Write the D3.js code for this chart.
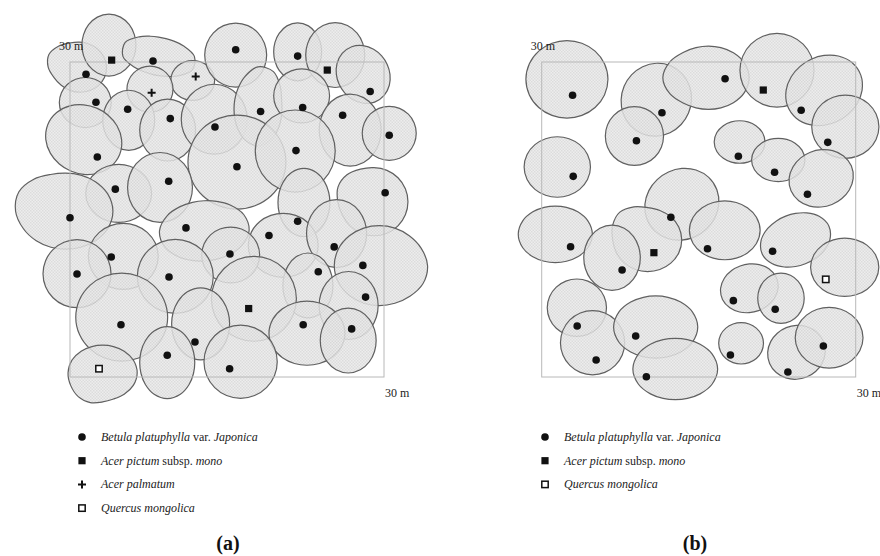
<!DOCTYPE html>
<html>
<head>
<meta charset="utf-8">
<script src="https://cdn.jsdelivr.net/npm/d3@7"></script>
<style>
  body { margin: 0; background: #fff; }
  svg { display: block; }
</style>
</head>
<body>
<svg id="chart" width="880" height="556"></svg>
<script>
// Plot size (m) and species
const plotSize = 30;
const species = [
  { key: "B", name: ["Betula platuphylla", " var. ", "Japonica"] },
  { key: "A", name: ["Acer pictum", " subsp. ", "mono"] },
  { key: "P", name: ["Acer palmatum", "", ""] },
  { key: "Q", name: ["Quercus mongolica", "", ""] }
];

// Stand (a): stem positions [x m, y m, species]
const treesA = [
  [1.53, 28.84, "B"], [3.98, 30.18, "A"], [7.93, 30.09, "B"], [12.01, 28.62, "P"],
  [7.80, 27.06, "P"], [15.83, 31.17, "B"], [21.75, 30.56, "B"], [24.58, 29.23, "A"],
  [28.68, 27.19, "B"], [2.48, 26.17, "B"], [5.51, 25.50, "B"], [9.58, 24.61, "B"],
  [13.85, 23.81, "B"], [18.21, 25.28, "B"], [22.23, 25.66, "B"], [26.05, 24.93, "B"],
  [30.50, 23.02, "B"], [2.61, 20.95, "B"], [15.95, 20.03, "B"], [21.59, 21.56, "B"],
  [4.33, 17.89, "B"], [9.43, 18.65, "B"], [30.11, 17.55, "B"], [0.00, 15.16, "B"],
  [11.08, 14.20, "B"], [21.75, 14.83, "B"], [19.01, 13.47, "B"], [25.24, 12.39, "B"],
  [3.94, 11.43, "B"], [15.28, 11.72, "B"], [0.67, 9.81, "B"], [9.46, 9.52, "B"],
  [27.98, 10.63, "B"], [23.72, 10.03, "B"], [28.24, 7.61, "B"], [17.07, 6.52, "A"],
  [4.87, 4.97, "B"], [22.28, 4.97, "B"], [26.91, 4.58, "B"], [11.94, 3.34, "B"],
  [9.29, 2.07, "B"], [15.25, 0.79, "B"], [2.77, 0.79, "Q"]
];

// Stand (a): crowns [cx m, cy m, rx m, ry m, rotation deg, lobe angle deg, lobe factor]
const crownsA = [
  [0.90, 29.51, 2.60, 2.39, 10, -160, 1.22], [3.72, 31.61, 2.58, 2.96, 0, 0, 1],
  [8.47, 30.54, 3.63, 1.81, 12, 0, 1], [11.72, 28.24, 2.10, 1.91, 0, 0, 1],
  [7.64, 27.41, 2.20, 2.20, 0, 0, 1], [15.83, 30.66, 2.96, 3.06, 0, 0, 1],
  [21.75, 30.97, 2.29, 2.77, 0, 0, 1], [25.34, 30.66, 2.82, 3.10, 0, 0, 1],
  [28.01, 28.82, 2.48, 2.87, -30, 0, 1], [1.46, 26.14, 2.48, 2.39, 0, 0, 1],
  [5.61, 24.45, 2.48, 2.87, 0, 0, 1], [9.33, 23.52, 2.67, 2.96, 0, 0, 1],
  [13.78, 24.55, 3.15, 3.34, 0, 0, 1], [17.96, 25.53, 2.29, 3.53, 0, -70, 1.2],
  [22.13, 26.77, 2.67, 2.58, 0, 0, 1], [26.77, 23.52, 2.96, 3.44, 0, 0, 1],
  [30.50, 23.21, 2.58, 2.58, 0, 0, 1], [1.31, 22.61, 3.72, 3.25, 25, 0, 1],
  [15.95, 20.47, 4.68, 4.49, 0, 0, 1], [21.52, 21.52, 3.82, 3.92, 0, 0, 1],
  [4.65, 17.48, 3.15, 2.77, 0, 0, 1], [8.60, 18.05, 3.10, 3.34, 0, 0, 1],
  [29.04, 16.69, 3.25, 3.25, 0, -150, 1.15], [-0.40, 15.79, 4.50, 3.63, 0, -155, 1.12],
  [12.83, 13.92, 4.30, 2.87, -5, 0, 1], [22.35, 16.62, 2.48, 3.25, 0, 0, 1],
  [20.37, 12.54, 3.34, 3.06, 0, 0, 1], [25.47, 13.66, 2.87, 3.25, 0, 0, 1],
  [5.09, 11.49, 3.34, 3.15, 0, 0, 1], [15.35, 11.62, 2.77, 2.67, 0, 0, 1],
  [0.67, 9.84, 3.25, 3.25, 0, 0, 1], [10.06, 9.58, 3.63, 3.53, 0, 0, 1],
  [29.55, 10.60, 4.30, 3.82, 0, 10, 1.08], [22.73, 8.72, 2.39, 3.10, 0, 0, 1],
  [26.62, 6.81, 2.82, 3.25, 0, 0, 1], [17.57, 7.45, 4.06, 4.06, 0, 0, 1],
  [4.94, 5.70, 4.39, 4.20, 0, 0, 1], [22.64, 4.17, 3.63, 3.06, 0, 0, 1],
  [26.58, 3.47, 2.67, 3.10, 0, 0, 1], [12.48, 5.06, 2.77, 3.44, 0, 0, 1],
  [9.29, 1.37, 2.63, 3.44, 0, 0, 1], [16.30, 1.46, 3.50, 3.50, 0, 0, 1],
  [3.12, 0.41, 3.30, 2.63, 0, 120, 1.15]
];

// Stand (b): stem positions
const treesB = [
  [2.95, 26.83, "B"], [11.49, 25.17, "B"], [17.52, 28.41, "B"], [21.17, 27.33, "A"],
  [24.79, 25.40, "B"], [27.33, 22.35, "B"], [9.05, 22.50, "B"], [18.79, 21.02, "B"],
  [22.25, 19.50, "B"], [25.39, 17.40, "B"], [3.01, 19.11, "B"], [12.34, 15.21, "B"],
  [2.76, 12.41, "B"], [10.72, 11.84, "A"], [7.68, 10.19, "B"], [15.84, 12.22, "B"],
  [22.06, 11.97, "B"], [27.14, 9.30, "Q"], [18.31, 7.27, "B"], [22.31, 6.45, "B"],
  [3.39, 4.86, "B"], [8.98, 3.90, "B"], [5.20, 1.62, "B"], [10.00, 0.03, "B"],
  [18.03, 2.10, "B"], [26.91, 2.95, "B"], [23.52, 0.48, "B"]
];

// Stand (b): crowns
const crownsB = [
  [2.41, 28.35, 3.92, 3.70, 0, 0, 1], [10.95, 26.41, 3.33, 3.52, 25, 0, 1],
  [8.86, 22.95, 2.78, 2.81, 0, 0, 1], [15.93, 28.50, 3.89, 3.02, 0, 180, 1.12],
  [22.48, 29.21, 3.54, 3.52, 0, 0, 1], [26.98, 27.30, 3.81, 3.21, -30, 0, 1],
  [29.01, 23.84, 3.21, 3.02, 0, 0, 1], [18.91, 22.38, 2.43, 2.03, 0, 0, 1],
  [22.60, 20.67, 2.55, 2.07, 0, 0, 1], [26.70, 18.92, 3.12, 2.70, -20, 0, 1],
  [1.49, 20.00, 3.17, 2.89, 0, 0, 1], [13.39, 16.45, 3.64, 3.33, -35, 0, 1],
  [1.30, 13.59, 3.54, 2.70, 0, 0, 1], [10.12, 13.05, 3.26, 3.02, 0, -135, 1.2],
  [6.72, 11.36, 2.70, 3.12, 0, 0, 1], [17.49, 13.97, 3.38, 2.81, 0, 0, 1],
  [24.25, 13.05, 3.46, 2.46, -20, 0, 1], [28.95, 10.45, 3.26, 2.78, 0, 0, 1],
  [19.84, 8.45, 2.79, 2.30, -15, 0, 1], [22.86, 7.50, 2.22, 2.40, 0, 0, 1],
  [3.36, 6.60, 2.83, 2.74, 0, 0, 1], [4.86, 3.27, 3.07, 3.07, 0, 0, 1],
  [10.89, 4.76, 4.02, 2.97, 0, 0, 1], [12.76, 0.76, 4.05, 2.93, 0, 0, 1],
  [19.05, 3.21, 2.14, 1.98, 0, 0, 1], [24.34, 2.35, 2.78, 2.55, -20, 0, 1],
  [27.46, 3.74, 3.24, 2.90, 0, 0, 1]
];

const svg = d3.select("#chart");
const defs = svg.append("defs");

// Fine checker texture used for crown fill
const pat = defs.append("pattern")
  .attr("id", "crownTex").attr("patternUnits", "userSpaceOnUse")
  .attr("width", 3).attr("height", 3);
pat.append("rect").attr("width", 3).attr("height", 3).attr("fill", "#eaeaea");
pat.append("rect").attr("width", 1.5).attr("height", 1.5).attr("fill", "#d6d6d6");
pat.append("rect").attr("x", 1.5).attr("y", 1.5).attr("width", 1.5).attr("height", 1.5).attr("fill", "#d6d6d6");

const crownLine = d3.line().curve(d3.curveCatmullRomClosed.alpha(0.5));

function crownPoints(c, x, y, k) {
  const [cx, cy, rx, ry, rot, lobeA, lobeF] = c;
  const px = x(cx), py = y(cy);
  const a = rx * k, b = ry * k, r0 = rot * Math.PI / 180, la = lobeA * Math.PI / 180;
  const pts = [];
  const n = 16;
  for (let i = 0; i < n; i++) {
    const t = (i / n) * 2 * Math.PI;
    const lt = t - r0;
    let r = (a * b) / Math.sqrt((b * Math.cos(lt)) ** 2 + (a * Math.sin(lt)) ** 2);
    const d = Math.max(0, Math.cos(t - la));
    r *= 1 + (lobeF - 1) * Math.pow(d, 6);
    pts.push([px + r * Math.cos(t), py + r * Math.sin(t)]);
  }
  return pts;
}

function drawPanel(g, trees, crowns, left, keys, legendX) {
  const x = d3.scaleLinear().domain([0, plotSize]).range([left, left + 314]);
  const y = d3.scaleLinear().domain([0, plotSize]).range([377, 62]);
  const k = (x(1) - x(0));

  g.append("g").selectAll("path").data(crowns).join("path")
    .attr("d", c => crownLine(crownPoints(c, x, y, k)))
    .attr("fill", "url(#crownTex)")
    .attr("fill-opacity", 0.85)
    .attr("stroke", "#606060")
    .attr("stroke-width", 1.2);

  // plot boundary
  g.append("rect")
    .attr("x", x(0)).attr("y", y(plotSize))
    .attr("width", x(plotSize) - x(0)).attr("height", y(0) - y(plotSize))
    .attr("fill", "none").attr("stroke", "#b8b8b8").attr("stroke-width", 1);

  g.append("text").attr("x", x(0) - 11).attr("y", y(plotSize) - 12)
    .attr("font-family", "Liberation Serif, serif").attr("font-size", 12)
    .attr("fill", "#222").text("30 m");
  g.append("text").attr("x", x(plotSize) + 1).attr("y", 397)
    .attr("font-family", "Liberation Serif, serif").attr("font-size", 12)
    .attr("fill", "#222").text("30 m");

  const m = g.append("g");
  trees.forEach(t => drawMarker(m, x(t[0]), y(t[1]), t[2]));

  // legend
  const lg = g.append("g");
  keys.forEach((key, i) => {
    const sp = species.find(s => s.key === key);
    const ly = 437 + i * 23.7;
    drawMarker(lg, legendX, ly, key);
    const tx = lg.append("text")
      .attr("x", legendX + 19).attr("y", ly + 4)
      .attr("font-family", "Liberation Serif, serif").attr("font-size", 12)
      .attr("fill", "#222");
    tx.append("tspan").attr("font-style", "italic").text(sp.name[0]);
    if (sp.name[1]) {
      tx.append("tspan").text(sp.name[1]);
      tx.append("tspan").attr("font-style", "italic").text(sp.name[2]);
    }
  });
}

function drawMarker(g, cx, cy, key) {
  if (key === "B") {
    g.append("circle").attr("cx", cx).attr("cy", cy).attr("r", 3.8).attr("fill", "#111");
  } else if (key === "A") {
    g.append("rect").attr("x", cx - 3.6).attr("y", cy - 3.6).attr("width", 7.2).attr("height", 7.2).attr("fill", "#111");
  } else if (key === "P") {
    g.append("path").attr("d", `M${cx - 4},${cy}H${cx + 4}M${cx},${cy - 4}V${cy + 4}`)
      .attr("stroke", "#111").attr("stroke-width", 2);
  } else if (key === "Q") {
    g.append("rect").attr("x", cx - 3.2).attr("y", cy - 3.2).attr("width", 6.4).attr("height", 6.4)
      .attr("fill", "#fff").attr("stroke", "#111").attr("stroke-width", 1.5);
  }
}

drawPanel(svg.append("g"), treesA, crownsA, 70, ["B", "A", "P", "Q"], 82);
drawPanel(svg.append("g"), treesB, crownsB, 541.7, ["B", "A", "Q"], 545);

// panel labels
svg.append("text").attr("x", 228).attr("y", 550).attr("text-anchor", "middle")
  .attr("font-family", "Liberation Serif, serif").attr("font-weight", "bold")
  .attr("font-size", 20).attr("fill", "#111").text("(a)");
svg.append("text").attr("x", 695).attr("y", 550).attr("text-anchor", "middle")
  .attr("font-family", "Liberation Serif, serif").attr("font-weight", "bold")
  .attr("font-size", 20).attr("fill", "#111").text("(b)");
</script>
</body>
</html>
